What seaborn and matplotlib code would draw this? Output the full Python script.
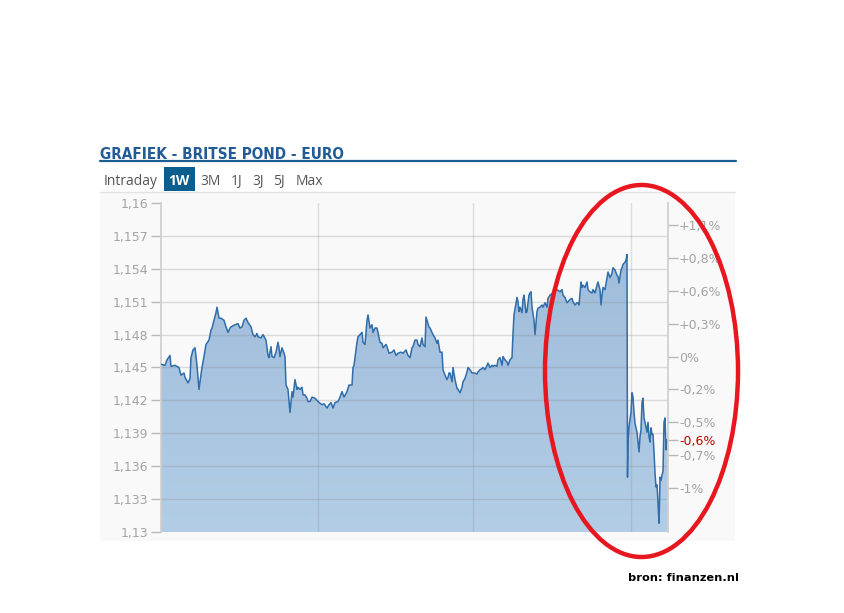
import numpy as np
import pandas as pd
import seaborn as sns
import matplotlib.pyplot as plt
from matplotlib.patches import Rectangle, Ellipse
from matplotlib.lines import Line2D
from matplotlib.colors import LinearSegmentedColormap

# koersdata GBP/EUR, 1 week (sample nr, koers)
sample = [0, 4, 6, 9, 10, 14, 18, 20, 23, 24, 27, 29, 30, 32, 34, 36, 38, 39, 41, 43,
          45, 48, 50, 51, 53, 55, 56, 58, 60, 63, 65, 67, 69, 70, 74, 77, 79, 81, 83, 85,
          87, 90, 92, 94, 96,
          97, 100, 102, 105, 107, 108, 110, 111, 113, 115, 117, 118, 119, 121, 123, 124, 125,
          127, 128, 129, 131, 132, 134, 136, 137, 139, 141, 142, 144, 146, 147, 149, 151, 154,
          157, 161, 163, 166, 168, 170, 172, 174, 177, 179, 181, 183, 186, 188, 191, 192, 193,
          194, 196, 197, 199, 201, 202, 204, 206, 207, 209, 211, 212, 214, 216, 217, 219, 221,
          222, 225, 226, 228, 231, 233, 235, 237, 240, 242, 245, 247, 249, 251, 252, 254, 256,
          257, 259, 261, 262, 264, 265, 266, 268, 269, 271, 272, 274, 276, 277, 279, 281, 282,
          284, 286, 287, 288,
          289, 291, 292, 294, 296, 297, 299, 301, 302, 304, 306, 307, 309, 311, 314, 316, 317,
          319, 321, 322, 324, 326, 327, 329, 331, 332, 334, 336, 337, 339, 341, 342, 344, 346,
          347, 349, 351, 352, 353, 355, 356, 357, 358, 359, 361, 362, 363, 365, 366, 367, 368,
          369, 370, 371, 373, 374, 376, 377,
          379, 381, 382, 384, 386, 387, 389, 392, 396, 399, 401, 402, 404, 406, 407, 409, 411,
          412, 414, 416, 417, 418, 420, 421, 422, 424, 426, 427, 429, 431, 432, 434, 436, 437,
          439, 440, 441, 442, 444, 446, 447, 449, 451, 452, 454, 456, 457, 458, 460, 461, 462,
          464, 465, 466,
          466.5, 467, 468, 470, 471, 472, 473, 474, 476, 477, 478, 479, 480, 481, 482, 483, 484,
          486, 487, 488, 489, 490, 491, 492, 493, 494, 495, 496, 497, 498, 498.5, 499, 500, 501,
          502, 503, 504, 505, 506, 507]
rate = [1.1453, 1.1452, 1.1457, 1.1461, 1.1451, 1.1452, 1.1450, 1.1443, 1.1445, 1.1441,
        1.1436, 1.1440, 1.1459, 1.1466, 1.1468, 1.1452, 1.1430, 1.1437, 1.1450, 1.1460,
        1.1471, 1.1475, 1.1484, 1.1486, 1.1493, 1.1500, 1.1505, 1.1495, 1.1495, 1.1493,
        1.1487, 1.1482, 1.1486, 1.1487, 1.1489, 1.1490, 1.1486, 1.1487, 1.1493, 1.1495,
        1.1491, 1.1487, 1.1480, 1.1478, 1.1481,
        1.1478, 1.1477, 1.1480, 1.1475, 1.1461, 1.1459, 1.1469, 1.1460, 1.1459, 1.1464,
        1.1473, 1.1468, 1.1460, 1.1468, 1.1463, 1.1460, 1.1434, 1.1430, 1.1419, 1.1409,
        1.1428, 1.1423, 1.1439, 1.1430, 1.1432, 1.1430, 1.1432, 1.1425, 1.1425, 1.1422,
        1.1419, 1.1419, 1.1423, 1.1422, 1.1419, 1.1416, 1.1417, 1.1413, 1.1416, 1.1418,
        1.1413, 1.1418, 1.1419, 1.1423, 1.1428, 1.1423, 1.1428, 1.1434, 1.1434, 1.1450,
        1.1452,
        1.1459, 1.1473, 1.1478, 1.1480, 1.1482, 1.1473, 1.1471, 1.1493, 1.1498, 1.1486,
        1.1489, 1.1482, 1.1486, 1.1486, 1.1482, 1.1473, 1.1472, 1.1468, 1.1471, 1.1469,
        1.1463, 1.1464, 1.1466, 1.1461, 1.1463, 1.1464, 1.1463, 1.1466, 1.1461, 1.1459,
        1.1468, 1.1469, 1.1475, 1.1475, 1.1471, 1.1469, 1.1477, 1.1471, 1.1469, 1.1496,
        1.1493, 1.1487, 1.1486, 1.1482, 1.1480, 1.1477, 1.1472, 1.1475, 1.1464, 1.1464,
        1.1448, 1.1443, 1.1439, 1.1441, 1.1445,
        1.1445, 1.1437, 1.1450, 1.1439, 1.1431, 1.1430, 1.1427, 1.1432, 1.1437, 1.1440,
        1.1446, 1.1450, 1.1448, 1.1445, 1.1445, 1.1444, 1.1446, 1.1448, 1.1449, 1.1450,
        1.1448, 1.1452, 1.1454, 1.1450, 1.1452, 1.1451, 1.1452, 1.1451, 1.1457, 1.1459,
        1.1452, 1.1460, 1.1457, 1.1455, 1.1452, 1.1457, 1.1459, 1.1481, 1.1498, 1.1509,
        1.1514, 1.1510, 1.1501, 1.1505, 1.1500, 1.1512, 1.1516, 1.1500, 1.1501, 1.1509,
        1.1516, 1.1518, 1.1519, 1.1505, 1.1493, 1.1480, 1.1501, 1.1504,
        1.1505, 1.1507, 1.1505, 1.1509, 1.1505, 1.1513, 1.1516, 1.1518, 1.1521, 1.1519,
        1.1521, 1.1516, 1.1514, 1.1509, 1.1510, 1.1512, 1.1513, 1.1510, 1.1507, 1.1509,
        1.1509, 1.1507, 1.1528, 1.1523, 1.1525, 1.1523, 1.1528, 1.1521, 1.1519, 1.1518,
        1.1521, 1.1518, 1.1525, 1.1528, 1.1521, 1.1507, 1.1516, 1.1523, 1.1521, 1.1532,
        1.1537, 1.1532, 1.1536, 1.1541, 1.1539, 1.1534, 1.1533, 1.1527, 1.1539, 1.1541,
        1.1544, 1.1546, 1.1548, 1.1553,
        1.1350, 1.1381, 1.1396, 1.1409, 1.1427, 1.1423, 1.1409, 1.1399, 1.1391, 1.1382,
        1.1373, 1.1387, 1.1393, 1.1418, 1.1422, 1.1404, 1.1400, 1.1391, 1.1400, 1.1387,
        1.1382, 1.1395, 1.1389, 1.1389, 1.1373, 1.1354, 1.1341, 1.1343, 1.1327, 1.1308,
        1.1326, 1.1350, 1.1347, 1.1352, 1.1355, 1.1400, 1.1404, 1.1375, 1.1384, 1.1384]

day_breaks = [157, 312, 470]
left_ticks = [1.13, 1.133, 1.136, 1.139, 1.142, 1.145, 1.148, 1.151, 1.154, 1.157, 1.16]
left_labels = ['1,13', '1,133', '1,136', '1,139', '1,142', '1,145', '1,148', '1,151',
               '1,154', '1,157', '1,16']
right_ticks = [1.158, 1.155, 1.152, 1.149, 1.146, 1.143, 1.140, 1.1384, 1.137, 1.134]
right_labels = ['+1,1%', '+0,8%', '+0,6%', '+0,3%', '0%', '-0,2%', '-0,5%', '-0,6%',
                '-0,7%', '-1%']
tabs = ['Intraday', '1W', '3M', '1J', '3J', '5J', 'Max']
tab_x = [104, 168, 200, 231, 252, 273, 296]

df = pd.DataFrame({'t': sample, 'koers': rate})

sns.set_theme(style='white')
W, H = 844, 613
fig = plt.figure(figsize=(W / 100, H / 100), dpi=100)
fig.patch.set_facecolor('white')


def fx(x):
    return x / W


def fy(y):
    return 1 - y / H


# grijs paneel achter de grafiek
fig.patches.append(Rectangle((fx(100), fy(541)), fx(735) - fx(100), fy(193) - fy(541),
                             transform=fig.transFigure, facecolor='#f9f9f9',
                             edgecolor='none', zorder=-5))

ax = fig.add_axes([fx(161), fy(532), fx(668) - fx(161), fy(203) - fy(532)])
ax.set_facecolor('none')
ax.set_xlim(0, 507)
ax.set_ylim(1.13, 1.16)

# gradient vulling onder de lijn
poly = ax.fill_between(df.t, df.koers, 1.13, facecolor='none', edgecolor='none')
cmap = LinearSegmentedColormap.from_list('vul', ['#9bb9d8', '#b3cde6'])
grad = np.linspace(0, 1, 256).reshape(-1, 1)
im = ax.imshow(grad, extent=[0, 507, 1.13, 1.16], aspect='auto', cmap=cmap, zorder=1)
im.set_clip_path(poly.get_paths()[0], transform=ax.transData)

for v in left_ticks[1:-1]:
    ax.axhline(v, color='#8a8a8a', alpha=0.28, lw=1, zorder=2)
for d in day_breaks:
    ax.axvline(d, color='#8a8a8a', alpha=0.25, lw=1, zorder=2)

sns.lineplot(data=df, x='t', y='koers', color='#2f6dab', lw=1.1, ax=ax, zorder=3,
             estimator=None, sort=False)
ax.set_xlabel('')
ax.set_ylabel('')
ax.set_xticks([])
ax.set_yticks(left_ticks, left_labels)
ax.tick_params(axis='y', left=True, length=7, width=1, color='#b8b8b8',
               labelcolor='#a3a3a3', labelsize=9, pad=2)
for s in ['top', 'bottom', 'right']:
    ax.spines[s].set_visible(False)
ax.spines['left'].set_color('#cfcfcf')

ax2 = ax.twinx()
ax2.set_ylim(1.13, 1.16)
ax2.set_yticks(right_ticks, right_labels)
ax2.tick_params(axis='y', right=True, length=7, width=1, color='#b8b8b8',
                labelcolor='#a3a3a3', labelsize=9, pad=1)
for lbl, txt in zip(ax2.get_yticklabels(), right_labels):
    if txt == '-0,6%':
        lbl.set_color('#c00000')
for s in ['top', 'bottom', 'left']:
    ax2.spines[s].set_visible(False)
ax2.spines['right'].set_color('#cfcfcf')

# titel en tabs
fig.text(fx(100), fy(159), 'GRAFIEK - BRITSE POND - EURO',
         family='DejaVu Sans', stretch='condensed', weight='bold', size=11,
         color='#215c98', va='baseline')
fig.add_artist(Line2D([fx(100), fx(736)], [fy(161), fy(161)], color='#1b5e91', lw=1.6))
fig.add_artist(Line2D([fx(100), fx(735)], [fy(192), fy(192)], color='#e2e2e2', lw=1))
fig.patches.append(Rectangle((fx(164), fy(191)), fx(195) - fx(164), fy(167) - fy(191),
                             transform=fig.transFigure, facecolor='#0b5e8d',
                             edgecolor='none'))
for name, x in zip(tabs, tab_x):
    if name == '1W':
        fig.text(fx(x), fy(185), name, family='Open Sans', weight='bold', size=10,
                 color='white', va='baseline')
    else:
        fig.text(fx(x), fy(185), name, family='Open Sans', size=10, color='#555555',
                 va='baseline')

# rode ellips rond de val
fig.add_artist(Ellipse((fx(641.5), fy(371)), 193 / W, 372 / H, transform=fig.transFigure,
                       fill=False, edgecolor='#e8161f', lw=3.2, zorder=10))

fig.text(fx(739), fy(578), 'bron: finanzen.nl', ha='right', va='center',
         weight='bold', size=8.2, color='black')

fig.savefig('out.png', dpi=100)
